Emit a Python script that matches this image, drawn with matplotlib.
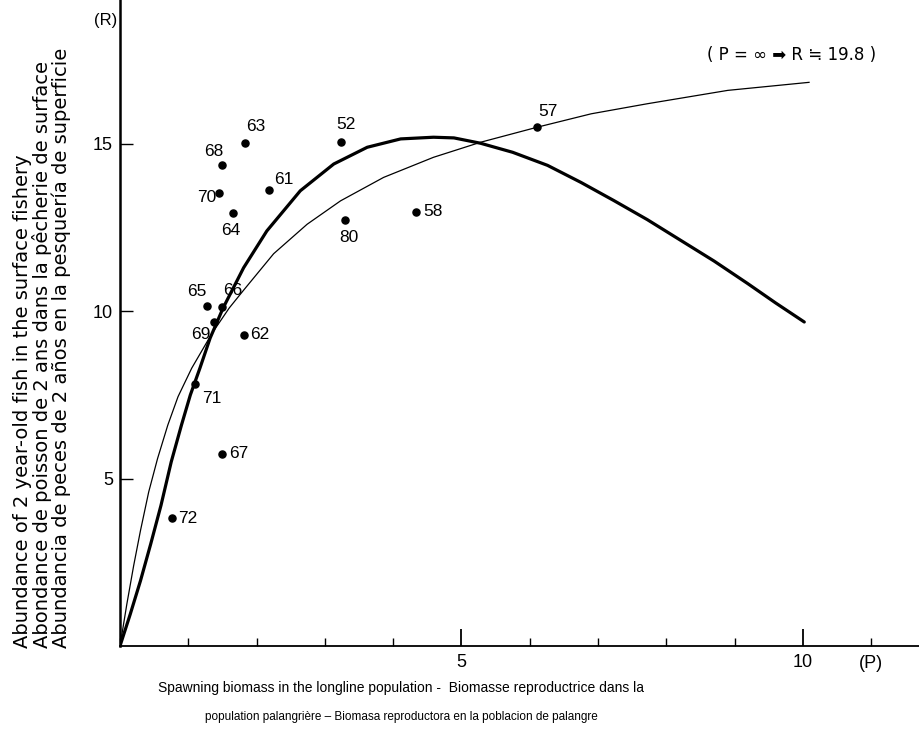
import matplotlib
matplotlib.use('Agg')
import matplotlib.pyplot as plt
from matplotlib.ticker import MultipleLocator

# observed years: spawning biomass P, recruits R
years = ['72', '71', '67', '62', '69', '65', '66', '64', '70', '68', '63', '61', '52', '80', '58', '57']
p_obs = [0.76, 1.10, 1.49, 1.81, 1.37, 1.28, 1.49, 1.65, 1.45, 1.50, 1.83, 2.18, 3.24, 3.29, 4.34, 6.11]
r_obs = [3.81, 7.84, 5.73, 9.30, 9.68, 10.16, 10.13, 12.93, 13.54, 14.36, 15.02, 13.61, 15.07, 12.74, 12.96, 15.50]

# thick curve (Ricker)
p_thick = [0, 0.15, 0.3, 0.45, 0.6, 0.75, 0.9, 1.03, 1.17, 1.32, 1.51, 1.81, 2.15, 2.64, 3.13,
           3.62, 4.11, 4.59, 4.89, 5.28, 5.75, 6.26, 6.75, 7.23, 7.72, 8.21, 8.7, 9.19, 9.6, 10.02]
r_thick = [0, 0.95, 1.95, 3.05, 4.2, 5.5, 6.6, 7.5, 8.3, 9.2, 10.1, 11.3, 12.4, 13.6, 14.4,
           14.9, 15.15, 15.2, 15.18, 15.02, 14.75, 14.36, 13.85, 13.31, 12.74, 12.12, 11.5, 10.83, 10.25, 9.68]

# thin curve (Beverton-Holt, R -> 19.8)
p_thin = [0, 0.1, 0.2, 0.3, 0.42, 0.55, 0.7, 0.85, 1.05, 1.35, 1.6, 1.81, 2.25, 2.74, 3.23,
          3.86, 4.59, 5.28, 6.11, 6.9, 7.72, 8.9, 10.09]
r_thin = [0, 1.25, 2.4, 3.45, 4.6, 5.6, 6.6, 7.45, 8.3, 9.35, 10.1, 10.63, 11.72, 12.6, 13.3,
          14.0, 14.6, 15.05, 15.5, 15.9, 16.2, 16.6, 16.84]

# label offsets in pixels (dx, dy, ha)
lab_off = {
    '72': (6, 0, 'left'), '71': (7, -15, 'left'), '67': (7, 1, 'left'), '62': (7, 0, 'left'),
    '69': (-3, -13, 'right'), '65': (-1, 14, 'right'), '66': (1, 16, 'left'), '64': (-2, -17, 'center'),
    '70': (-3, -5, 'right'), '68': (1, 14, 'right'), '63': (1, 17, 'left'), '61': (5, 11, 'left'),
    '52': (5, 17, 'center'), '80': (4, -18, 'center'), '58': (7, 1, 'left'), '57': (1, 16, 'left'),
}

narrow = ['Liberation Sans', 'DejaVu Sans']

fig = plt.figure(figsize=(9.19, 7.38), dpi=100)
ax = fig.add_axes([120 / 919, (738 - 646) / 738, 799 / 919, 646 / 738])

ax.plot(p_thick, r_thick, color='black', lw=2.3, solid_capstyle='round')
ax.plot(p_thin, r_thin, color='black', lw=0.9)
ax.scatter(p_obs, r_obs, s=26, color='black', zorder=3)

for yr, px, ry in zip(years, p_obs, r_obs):
    dx, dy, ha = lab_off[yr]
    ax.annotate(yr, (px, ry), xytext=(dx, dy), textcoords='offset pixels',
                ha=ha, va='center', fontsize=12.5, family=narrow)

ax.set_xlim(0, 11.7)
ax.set_ylim(0, 19.3)
for s in ['top', 'right']:
    ax.spines[s].set_visible(False)
ax.spines['left'].set_linewidth(1.8)
ax.spines['bottom'].set_linewidth(1.3)

ax.set_xticks([5, 10])
ax.set_xticklabels(['5', '10'], family=narrow, fontsize=13)
ax.xaxis.set_minor_locator(MultipleLocator(1))
ax.set_yticks([5, 10, 15])
ax.set_yticklabels(['5', '10', '15'], family=narrow, fontsize=13)
ax.tick_params(axis='x', which='major', direction='in', length=12, width=1.3, pad=6)
ax.tick_params(axis='x', which='minor', direction='in', length=6, width=1.0)
ax.tick_params(axis='y', which='major', direction='in', length=9, width=1.0, pad=5)

ax.annotate('(P)', (11, 0), xytext=(0, -17), textcoords='offset pixels',
            ha='center', va='center', fontsize=13, family=narrow, annotation_clip=False)
fig.text(117 / 919, 1 - 20 / 738, '(R)', ha='right', va='center', fontsize=12, family=narrow)
fig.text(792 / 919, 1 - 55 / 738, '( P = \u221e \u27a1 R \u2252 19.8 )', ha='center', va='center',
         fontsize=12, family=['DejaVu Sans'])

ylab = ['Abundance of 2 year-old fish in the surface fishery',
        'Abondance de poisson de 2 ans dans la p\u00eacherie de surface',
        'Abundancia de peces de 2 a\u00f1os en la pesquer\u00eda de superficie']
for i, t in enumerate(ylab):
    fig.text((23 + 19 * i) / 919, 1 - 648 / 738, t, rotation=90, ha='center', va='bottom',
             fontsize=14, family=['DejaVu Sans'])

fig.text(401 / 919, 1 - 688 / 738,
         'Spawning biomass in the longline population -  Biomasse reproductrice dans la',
         ha='center', va='center', fontsize=10, family=narrow)
fig.text(401 / 919, 1 - 717 / 738,
         'population palangri\u00e8re \u2013 Biomasa reproductora en la poblacion de palangre',
         ha='center', va='center', fontsize=8.5, family=narrow)

fig.savefig('out.png', dpi=100)
